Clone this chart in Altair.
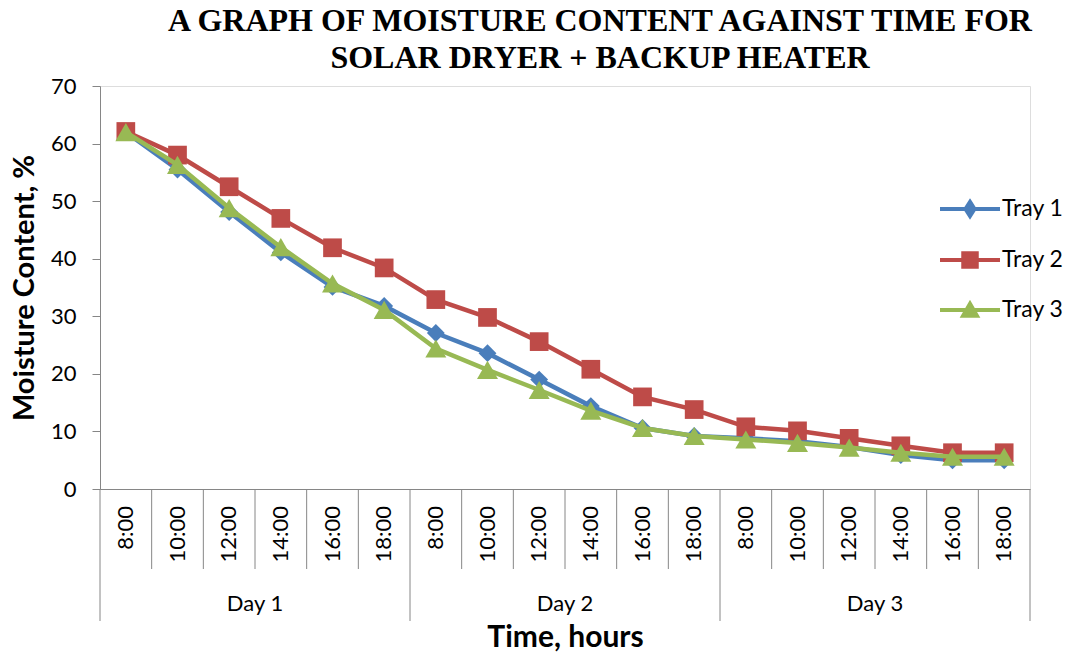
import altair as alt
import pandas as pd

title_lines = ["A GRAPH OF MOISTURE CONTENT AGAINST TIME FOR", "SOLAR DRYER + BACKUP HEATER"]
times = ["8:00", "10:00", "12:00", "14:00", "16:00", "18:00"] * 3
days = ["Day 1", "Day 2", "Day 3"]
series = ["Tray 1", "Tray 2", "Tray 3"]
tray1 = [62.0, 55.5, 48.1, 41.1, 35.1, 31.8, 27.1, 23.6, 19.0, 14.4, 10.6, 9.2, 8.8, 8.3, 7.3, 5.9, 5.0, 5.0]
tray2 = [62.1, 58.0, 52.5, 47.0, 41.9, 38.4, 32.9, 29.8, 25.6, 20.8, 16.0, 13.8, 10.8, 10.1, 8.8, 7.5, 6.3, 6.3]
tray3 = [62.0, 56.3, 48.8, 42.0, 35.7, 31.1, 24.4, 20.7, 17.2, 13.6, 10.6, 9.2, 8.6, 8.0, 7.2, 6.3, 5.6, 5.6]
colors = ["#4A7EBB", "#BE4B48", "#98B954"]
shapes = ["diamond", "square", "triangle-up"]
marker_sizes = [320, 350, 440]
legend_paths = [
    "M-2,0H2M0,-0.47L0.3,0L0,0.47L-0.3,0Z",
    "M-2,0H2M-0.45,-0.45H0.45V0.45H-0.45Z",
    "M-2,0H2M0,-0.42L0.46,0.38H-0.46Z",
]

FONT = "Lato"
GREY = "#868686"

rows = []
for s, vals in zip(series, [tray1, tray2, tray3]):
    for i, v in enumerate(vals):
        rows.append({"Tray": s, "idx": i, "Moisture": v, "Time": times[i]})
df = pd.DataFrame(rows)

n = len(times)
sep_df = pd.DataFrame({"pos": [i - 0.5 for i in range(n + 1)],
                       "major": [i % 6 == 0 for i in range(n + 1)]})
time_df = pd.DataFrame({"idx": list(range(n)), "label": times})
day_df = pd.DataFrame({"center": [6 * d + 2.5 for d in range(len(days))], "label": days})

x_scale = alt.Scale(domain=[-0.5, n - 0.5], nice=False, zero=False)
y_scale = alt.Scale(domain=[0, 70], nice=False)

x_axis = alt.Axis(labels=False, ticks=False, grid=False, domainColor=GREY, domainWidth=1,
                  title="Time, hours", titleFont=FONT, titleFontSize=30, titleFontWeight="bold",
                  titleColor="black", titleY=157, titleBaseline="alphabetic")
y_axis = alt.Axis(values=list(range(0, 71, 10)), grid=False, tickSize=8, tickColor=GREY,
                  domainColor=GREY, labelFont=FONT, labelFontSize=22, labelPadding=16,
                  labelColor="black", title="Moisture Content, %", titleFont=FONT,
                  titleFontSize=29, titleFontWeight="bold", titleColor="black",
                  titleX=-67, titleBaseline="alphabetic")

X = alt.X("idx:Q", scale=x_scale, axis=x_axis)
Y = alt.Y("Moisture:Q", scale=y_scale, axis=y_axis)

layers = []
for k, s in enumerate(series):
    sub = alt.Chart(df).transform_filter(alt.datum.Tray == s)
    layers.append(sub.mark_line(strokeWidth=4.5, color=colors[k]).encode(x=X, y=Y))
    layers.append(sub.mark_point(filled=True, shape=shapes[k], size=marker_sizes[k],
                                 color=colors[k], opacity=1).encode(x=X, y=Y))

sep_minor = alt.Chart(sep_df).transform_filter("!datum.major").mark_rule(
    color=GREY, strokeWidth=1).encode(
    x=alt.X("pos:Q", scale=x_scale, axis=x_axis), y=alt.value(403), y2=alt.value(483))
sep_major = alt.Chart(sep_df).transform_filter("datum.major").mark_rule(
    color=GREY, strokeWidth=1).encode(
    x=alt.X("pos:Q", scale=x_scale, axis=x_axis), y=alt.value(403), y2=alt.value(535))

time_text = alt.Chart(time_df).mark_text(
    angle=270, align="right", baseline="middle", font=FONT, fontSize=22, color="black").encode(
    x=alt.X("idx:Q", scale=x_scale, axis=x_axis), y=alt.value(420), text="label:N")
day_text = alt.Chart(day_df).mark_text(
    align="center", baseline="alphabetic", font=FONT, fontSize=22, color="black").encode(
    x=alt.X("center:Q", scale=x_scale, axis=x_axis), y=alt.value(525), text="label:N")

leg = alt.Legend(title=None, orient="none", legendX=853, legendY=106, symbolSize=900,
                 symbolStrokeWidth=4, labelFont=FONT, labelFontSize=23, labelColor="black",
                 labelOffset=15, rowPadding=18, padding=0)
legend_layer = alt.Chart(df).transform_filter("false").mark_point(filled=True, opacity=1).encode(
    x=X, y=Y,
    fill=alt.Fill("Tray:N", scale=alt.Scale(domain=series, range=colors), legend=leg),
    stroke=alt.Stroke("Tray:N", scale=alt.Scale(domain=series, range=colors), legend=leg),
    shape=alt.Shape("Tray:N", scale=alt.Scale(domain=series, range=legend_paths), legend=leg),
)

chart = alt.layer(sep_minor, sep_major, time_text, day_text, *layers, legend_layer).properties(
    width=930, height=403,
    title=alt.TitleParams(text=title_lines, font="Liberation Serif", fontSize=32,
                          fontWeight="bold", color="black", anchor="middle", dx=35,
                          offset=0, lineHeight=37),
    autosize=alt.AutoSizeParams(type="none"),
    padding={"left": 92, "top": 78, "right": 33, "bottom": 163},
).configure_view(stroke=None).configure(background="white")

chart.save("out.html", embed_options={"renderer": "svg", "actions": False})
